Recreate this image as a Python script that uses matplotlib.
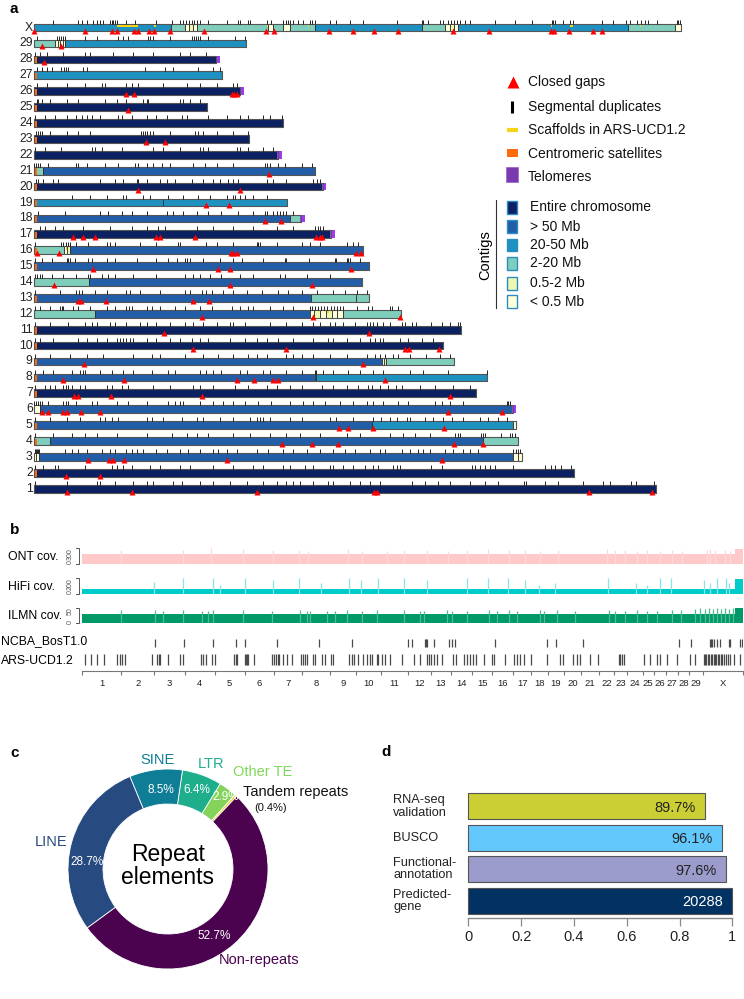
import numpy as np
import matplotlib
matplotlib.use('Agg')
import matplotlib.pyplot as plt
from matplotlib.patches import Rectangle

plt.rcParams['font.family'] = ['Liberation Sans', 'DejaVu Sans']

# ---------------- panel a: chromosome ideogram (Mb) ----------------
chrom_names = [str(i) for i in range(1, 30)] + ['X']
chrom_len = [157.8, 137.1, 123.9, 122.7, 122.2, 121.4, 112.1, 114.8, 106.4, 103.7,
             108.3, 93.1, 85.0, 83.1, 84.9, 83.5, 75.3, 67.7, 64.1, 73.2,
             71.3, 61.9, 54.6, 63.2, 43.9, 52.3, 47.7, 46.2, 53.7, 164.2]

contig_labels = ['Entire chromosome', '> 50 Mb', '20-50 Mb', '2-20 Mb', '0.5-2 Mb', '< 0.5 Mb']
contig_colors = ['#0b2161', '#225ea8', '#1d91c0', '#7fcdbb', '#edf8b1', '#ffffd9']

# (start, end, class) per chromosome
contigs = [
    [(0, 157.8, 0)],
    [(0, 137.1, 0)],
    [(0, 0.5, 5), (0.5, 1.2, 5), (1.2, 121.6, 1), (121.6, 122.8, 5), (122.8, 123.9, 5)],
    [(0, 4.0, 3), (4.0, 113.8, 1), (113.8, 122.7, 3)],
    [(0, 85.8, 1), (85.8, 121.4, 2), (121.4, 122.2, 5)],
    [(0, 1.5, 5), (1.5, 121.4, 1)],
    [(0, 112.1, 0)],
    [(0, 71.3, 1), (71.3, 71.6, 4), (71.6, 114.8, 2)],
    [(0, 88.2, 1), (88.2, 88.8, 5), (88.8, 89.3, 4), (89.3, 106.4, 3)],
    [(0, 103.7, 0)],
    [(0, 108.3, 0)],
    [(0, 15.4, 3), (15.4, 70.0, 1), (70.0, 71.0, 5), (71.0, 72.6, 4), (72.6, 74.0, 5),
     (74.0, 75.5, 4), (75.5, 76.8, 5), (76.8, 78.4, 5), (78.4, 93.1, 3)],
    [(0, 70.2, 1), (70.2, 81.6, 3), (81.6, 84.9, 3)],
    [(0, 14.0, 3), (14.0, 83.1, 1)],
    [(0, 84.9, 1)],
    [(0, 7.6, 3), (7.6, 8.3, 5), (8.3, 9.0, 4), (9.0, 83.5, 1)],
    [(0, 75.3, 0)],
    [(0, 64.9, 1), (64.9, 67.7, 3)],
    [(0, 32.6, 2), (32.6, 64.1, 2)],
    [(0, 73.2, 0)],
    [(0, 2.3, 3), (2.3, 71.3, 1)],
    [(0, 61.9, 0)],
    [(0, 54.6, 0)],
    [(0, 63.2, 0)],
    [(0, 43.9, 0)],
    [(0, 52.3, 0)],
    [(0, 47.7, 2)],
    [(0, 46.2, 0)],
    [(0, 5.3, 3), (5.3, 6.0, 5), (6.0, 6.6, 4), (6.6, 7.2, 5), (7.2, 7.8, 5), (7.8, 53.7, 2)],
    [(0, 34.7, 2), (34.7, 38.3, 3), (38.3, 39.3, 5), (39.3, 40.3, 4), (40.3, 41.3, 5),
     (41.3, 59.3, 3), (59.3, 60.6, 5), (60.6, 63.0, 3), (63.0, 64.9, 5), (64.9, 71.2, 3),
     (71.2, 98.4, 2), (98.4, 104.2, 3), (104.2, 105.5, 5), (105.5, 106.5, 4),
     (106.5, 107.5, 5), (107.5, 150.7, 2), (150.7, 162.6, 3), (162.6, 164.2, 5)],
]

closed_gaps = [
    [8.3, 24.9, 56.4, 86.2, 86.9, 140.9, 156.9],
    [8.0, 16.7],
    [13.6, 18.9, 20.1, 22.7, 48.8, 103.4],
    [62.9, 70.5, 77.2, 106.6, 114.0],
    [77.4, 79.6, 85.9, 104.0],
    [2.0, 3.4, 7.3, 8.4, 11.8, 16.7, 104.9, 118.6],
    [10.1, 11.0, 19.5, 42.6, 105.5],
    [7.4, 22.7, 51.4, 55.8, 60.5, 61.8, 89.0],
    [12.7, 83.3],
    [40.4, 64.0, 94.1, 95.1, 102.8],
    [32.9, 84.9],
    [42.6, 70.8, 92.8],
    [11.0, 11.8, 18.1, 40.2, 44.3],
    [5.0, 49.7, 70.5],
    [15.0, 46.6, 49.7, 80.5],
    [0.6, 6.3, 49.8, 50.5, 51.4, 81.6, 82.9],
    [9.7, 12.3, 15.3, 31.0, 31.9, 40.8, 71.5, 72.5, 73.1],
    [58.6, 62.6],
    [43.7, 49.3],
    [26.2, 52.3],
    [59.6],
    [],
    [28.4, 33.1],
    [],
    [23.9],
    [23.4, 25.4, 50.3, 50.8, 51.5],
    [],
    [2.5],
    [1.9, 6.7],
    [0.0, 12.9, 19.6, 20.9, 25.3, 26.2, 29.1, 30.5, 34.4, 43.1, 58.7, 60.9, 74.9, 80.8,
     86.3, 92.2, 106.2, 115.5, 131.1, 132.0, 135.8, 141.9, 144.2],
]

seg_dups = [
    [0.2, 8.2, 15.8, 16.7, 20.5, 25.1, 28.5, 30.2, 35.3, 37.4, 42.0, 45.4, 49.7, 53.9, 58.1,
     61.5, 64.0, 65.7, 67.4, 70.8, 74.6, 75.9, 80.1, 82.7, 85.2, 87.7, 95.8, 99.1, 102.5,
     105.5, 110.6, 114.3, 117.7, 124.4, 124.8, 129.5, 132.9, 139.2, 144.3, 146.0, 151.5,
     152.8, 157.4],
    [0.2, 2.3, 5.2, 6.1, 12.9, 19.6, 20.9, 22.6, 24.7, 29.4, 31.9, 37.0, 39.5, 45.4, 50.5,
     55.6, 58.1, 63.2, 64.9, 68.7, 70.8, 75.0, 75.9, 78.4, 81.0, 83.9, 86.0, 87.3, 91.1,
     92.0, 92.8, 100.8, 103.4, 111.0, 111.8, 113.1, 114.3, 115.6, 116.9, 121.5, 129.5,
     131.2, 132.1, 133.7, 136.3],
    [0.1, 0.4, 0.7, 1.0, 1.3, 7.8, 9.5, 11.2, 13.3, 17.1, 19.2, 20.5, 23.4, 24.7, 26.0,
     27.7, 31.0, 33.6, 37.0, 39.1, 42.0, 45.4, 46.7, 48.8, 51.4, 56.4, 59.4, 63.2, 65.7,
     69.1, 72.5, 75.9, 78.8, 81.4, 85.2, 87.7, 89.0, 93.2, 95.3, 97.4, 98.7, 100.4, 104.2,
     106.3, 108.9, 110.6, 112.7, 121.6, 122.2, 122.8, 123.4],
    [0.2, 4.8, 9.5, 12.9, 15.8, 20.9, 28.5, 34.9, 38.7, 41.2, 44.2, 50.5, 54.7, 59.8, 64.0,
     67.4, 72.5, 79.3, 82.7, 90.3, 93.7, 96.6, 100.4, 106.7, 107.6, 108.0, 113.5, 113.9,
     114.3, 118.5, 120.7, 121.3, 121.9],
    [0.2, 4.0, 8.2, 11.6, 16.7, 18.0, 19.6, 21.3, 28.5, 29.8, 32.7, 37.4, 41.2, 42.9, 47.1,
     50.5, 54.7, 56.4, 57.2, 58.1, 59.8, 64.9, 67.9, 75.0, 76.7, 81.0, 86.0, 88.1, 90.3,
     92.0, 94.5, 95.3, 99.1, 101.3, 103.8, 105.9, 108.9, 113.1, 115.2, 117.8, 119.9],
    [0.0, 0.5, 1.0, 1.5, 1.9, 3.6, 7.4, 8.0, 8.6, 10.7, 14.6, 15.8, 20.9, 23.9, 28.5, 34.0,
     35.7, 37.0, 37.8, 42.0, 45.4, 47.9, 50.5, 53.5, 56.9, 60.2, 64.9, 68.3, 70.8, 73.8,
     77.6, 81.0, 84.4, 86.0, 88.6, 92.4, 94.9, 101.7, 103.4, 105.5, 108.9, 119.9, 120.3,
     120.7],
    [0.2, 2.7, 4.0, 5.2, 7.4, 8.0, 8.6, 9.5, 11.6, 12.9, 18.4, 19.6, 22.2, 23.9, 30.2, 34.4,
     40.4, 42.0, 45.4, 50.9, 54.3, 59.0, 61.5, 64.9, 67.9, 72.9, 75.9, 79.3, 82.2, 84.8,
     85.6, 87.7, 89.8, 91.9, 93.2, 97.9, 101.7, 106.3, 110.6],
    [0.2, 2.3, 4.8, 9.5, 11.6, 12.3, 12.9, 16.7, 19.6, 22.6, 25.1, 29.8, 34.0, 35.7, 42.0,
     43.7, 45.4, 47.5, 52.2, 53.9, 58.1, 59.8, 64.0, 67.9, 71.2, 71.5, 73.4, 75.9, 79.7,
     82.7, 86.0, 88.6, 95.3, 98.7, 105.0, 114.8],
    [0.2, 4.0, 9.1, 13.3, 17.5, 25.1, 29.8, 31.9, 38.2, 42.9, 46.7, 50.5, 54.3, 56.4, 59.0,
     64.0, 65.7, 67.9, 70.8, 75.0, 79.3, 84.4, 86.5, 87.7, 89.0, 91.1, 92.4, 95.3, 99.5,
     102.9, 105.5],
    [0.2, 1.5, 4.8, 11.2, 13.3, 15.8, 18.4, 20.9, 21.8, 22.6, 23.4, 24.3, 25.1, 28.5, 31.0,
     34.4, 37.0, 39.9, 42.0, 44.2, 49.7, 53.5, 56.4, 59.0, 61.9, 65.7, 70.8, 74.6, 75.9,
     79.3, 82.7, 85.2, 86.5, 87.7, 88.6, 92.8, 94.9, 98.3, 101.3],
    [0.2, 4.0, 8.6, 12.9, 14.6, 15.8, 19.2, 20.5, 23.4, 26.8, 28.5, 31.0, 34.4, 38.2, 40.4,
     42.9, 46.3, 49.7, 50.5, 53.5, 59.8, 64.0, 67.9, 70.8, 72.5, 75.0, 76.3, 78.4, 81.4,
     84.4, 85.2, 86.0, 86.9, 88.6, 90.3, 93.2, 94.1, 95.8, 97.0, 100.8, 103.4, 105.5,
     107.6, 108.0],
    [0.2, 1.4, 4.0, 6.5, 7.0, 7.4, 9.9, 11.2, 14.1, 18.4, 20.5, 23.4, 24.0, 24.7, 28.5,
     29.8, 31.9, 35.7, 38.2, 42.0, 45.0, 50.1, 52.2, 54.3, 55.6, 59.8, 63.2, 65.7, 70.0,
     70.6, 71.2, 72.0, 72.8, 73.6, 74.4, 75.2, 76.0, 76.8, 77.6, 78.4, 81.8, 84.8, 85.6,
     90.3, 90.7, 92.4],
    [0.2, 6.5, 10.7, 11.3, 12.0, 15.4, 18.4, 23.4, 24.3, 26.8, 31.9, 38.2, 39.5, 42.5, 43.7,
     45.0, 48.0, 50.5, 53.9, 57.7, 61.9, 64.5, 67.9, 71.7, 75.9, 78.8, 81.8, 84.4],
    [0.2, 0.8, 1.4, 1.9, 4.4, 7.4, 10.7, 13.7, 14.1, 17.1, 18.8, 20.5, 25.1, 31.0, 38.2,
     40.4, 42.0, 44.6, 47.5, 52.2, 55.6, 62.4, 63.6, 69.1, 75.0],
    [0.2, 1.9, 4.4, 8.2, 8.6, 9.1, 10.3, 13.7, 14.6, 18.4, 20.5, 26.0, 31.0, 34.0, 36.1,
     38.2, 38.8, 39.5, 42.9, 47.1, 50.5, 52.6, 58.1, 63.6, 64.0, 69.6, 76.3, 76.7, 79.3,
     79.7, 80.1, 82.7],
    [0.2, 6.9, 7.4, 8.0, 8.6, 9.1, 10.7, 13.7, 18.4, 19.2, 20.5, 26.8, 31.0, 36.5, 37.0,
     43.7, 46.3, 50.5, 56.4, 56.8, 57.3, 61.5, 67.9, 70.0, 72.5, 79.3, 81.0, 82.2],
    [1.4, 2.7, 5.2, 7.4, 12.4, 19.2, 24.7, 28.5, 31.5, 33.2, 41.2, 45.4, 50.5, 55.6, 61.5,
     65.7, 71.2, 71.9, 72.6, 73.4],
    [1.0, 7.8, 16.7, 18.8, 22.2, 24.7, 28.5, 33.6, 35.3, 37.8, 41.2, 44.2, 47.5, 51.8, 55.6,
     58.5, 59.0, 60.7, 61.5, 62.3, 63.2, 64.0, 65.7],
    [9.5, 14.1, 18.4, 22.6, 23.4, 27.7, 29.4, 34.0, 37.8, 41.6, 44.6, 48.8, 50.5, 50.9,
     52.2, 53.5, 55.6, 59.0],
    [0.4, 1.0, 2.3, 4.8, 6.1, 16.7, 20.5, 22.6, 26.0, 26.4, 28.5, 31.9, 33.6, 35.7, 39.9,
     42.9, 45.4, 47.1, 49.2, 50.5, 51.8, 59.0, 60.7, 64.0, 70.8, 71.7, 72.5],
    [0.0, 0.5, 1.0, 1.4, 3.6, 10.7, 11.2, 13.3, 17.9, 21.3, 25.5, 26.4, 28.5, 30.2, 32.3,
     34.4, 40.4, 43.3, 46.3, 50.5, 58.5, 59.1, 59.8, 61.9, 63.6, 67.9, 70.4],
    [0.2, 2.7, 6.9, 14.6, 15.4, 17.1, 22.2, 30.2, 32.7, 37.0, 42.0, 42.9, 44.2, 51.4, 52.2,
     54.3, 58.1, 60.7],
    [0.4, 0.9, 1.4, 1.9, 4.0, 8.2, 11.2, 14.1, 27.2, 27.7, 28.2, 28.7, 29.4, 30.2, 34.4,
     40.8, 41.6, 42.9, 46.3, 50.5, 54.3],
    [0.2, 2.7, 5.2, 8.2, 10.7, 12.0, 13.3, 14.6, 16.7, 21.3, 22.2, 24.7, 28.5, 31.0, 33.6,
     37.4, 38.7, 44.2, 48.8, 52.2, 54.3, 58.1, 59.8, 62.8],
    [0.6, 1.0, 1.9, 4.0, 8.2, 11.2, 17.9, 20.9, 23.4, 27.7, 28.5, 28.9, 37.0, 37.8, 39.5, 42.0],
    [0.6, 3.1, 8.2, 12.9, 17.1, 17.9, 23.4, 24.7, 26.4, 32.7, 38.7, 42.0, 46.3, 50.5, 51.4],
    [0.6, 1.9, 3.1, 4.4, 6.9, 7.5, 8.0, 8.6, 12.4, 13.3, 28.1, 33.2, 35.3, 41.6, 45.4, 47.1],
    [0.2, 1.4, 3.1, 7.4, 12.9, 14.1, 20.1, 25.1, 30.2, 37.0, 39.5, 43.7],
    [0.6, 5.7, 6.2, 6.7, 7.2, 7.8, 12.9, 15.8, 21.3, 22.6, 23.9, 28.9, 29.4, 30.2, 34.4,
     40.0, 40.5, 41.0, 41.5, 42.0, 44.2, 50.9, 53.5],
    [4.8, 11.2, 12.0, 13.5, 15.0, 15.8, 16.7, 17.5, 19.2, 19.6, 20.0, 20.5, 20.9, 23.4, 25.5,
     31.0, 34.9, 37.0, 37.8, 38.5, 39.2, 39.9, 40.5, 41.2, 42.0, 44.2, 48.8, 51.8, 52.2,
     54.3, 54.7, 59.0, 60.2, 63.2, 63.8, 64.4, 65.0, 65.7, 67.0, 68.3, 70.0, 70.6, 71.2,
     75.0, 76.7, 80.1, 83.5, 92.0, 98.3, 98.7, 100.0, 103.0, 103.8, 105.1, 105.8, 106.5,
     107.2, 108.0, 109.3, 110.6, 116.9, 122.0, 126.2, 131.3, 131.7, 132.1, 134.3, 136.0,
     136.8, 144.0, 147.0, 150.3, 151.2, 152.9, 154.1, 155.0, 155.8, 158.0, 163.0, 163.5,
     164.0],
]

scaffold_chrom = ['X', 'X', 'X', 'X', 'X', 'X', 'X', '12', '16']
scaffold_start = [20.9, 30.4, 59.0, 69.4, 131.1, 136.0, 153.7, 74.3, 8.0]
scaffold_end = [26.4, 30.9, 59.4, 69.8, 131.5, 136.8, 154.1, 74.9, 8.4]

centromere_chroms = ['2', '4', '5', '7', '8', '9', '10', '11', '13', '15', '16', '17', '18',
                     '19', '20', '21', '23', '24', '25', '26', '27', '28']
telomere_chroms = ['6', '17', '18', '20', '22', '26', '28']

# ---------------- panel b: genome tracks (genome-wide Mb) ----------------
ont_base, hifi_base, ilmn_base = 192, 60, 28
cov_block_start = 2669
ont_spike_pos = [157, 410.6, 525.2, 657.3, 781.2, 887.5, 924.3, 1088, 1142.7, 1245, 1312.9,
                 1408.6, 1495.7, 1572.2, 1657.3, 1742.3, 1810.6, 1872, 1944.4, 2144.8,
                 2178.7, 2219.6, 2267.5, 2308.4, 2362.8, 2410.6, 2451.5, 2553.8, 2567.3,
                 2587.7, 2628.6, 2646.2]
ont_spike_val = [275, 265, 300, 290, 260, 270, 250, 280, 240, 255, 275, 265, 250, 270, 280,
                 260, 265, 245, 270, 280, 265, 260, 250, 270, 255, 260, 250, 265, 285, 270,
                 260, 250]
hifi_spike_pos = [293.3, 413.1, 535.8, 563.2, 665.4, 778.7, 887.5, 976.3, 1092, 1139.9,
                  1206.6, 1312.9, 1408.6, 1572.2, 1656.5, 1739.9, 1810.6, 1865, 1933.3,
                  2147.3, 2263.4, 2308.4, 2360, 2406.6, 2542.8, 2567.3, 2594.7, 2629.9,
                  2642.1]
hifi_spike_val = [157, 200, 200, 115, 200, 180, 200, 136, 200, 180, 200, 200, 180, 200, 200,
                  200, 180, 115, 136, 200, 136, 115, 200, 200, 180, 136, 200, 200, 136]
ilmn_spike_pos = [157, 297.3, 330.1, 411.9, 488.3, 515.3, 535.8, 658.5, 774.6, 890.4, 917.8,
                  931.3, 999.6, 1033.5, 1081.4, 1142.7, 1204.1, 1312.9, 1381.2, 1394.7,
                  1490.4, 1510.8, 1572.2, 1660.5, 1694.9, 1742.3, 1776.7, 1872, 1885.5,
                  1940.3, 2015.2, 2151.3, 2178.7, 2219.6, 2267.5, 2308.4, 2349.3, 2410.6,
                  2448.7, 2505.9, 2526.4, 2546.8, 2563.2, 2579.6, 2596, 2612.3, 2628.6,
                  2645, 2661.4]
ilmn_spike_val = [42, 44, 40, 42, 38, 40, 42, 44, 40, 42, 40, 38, 40, 38, 42, 40, 42, 42, 40,
                  38, 42, 40, 40, 44, 40, 42, 38, 42, 40, 42, 40, 42, 40, 40, 42, 40, 38, 42,
                  44, 46, 48, 46, 48, 47, 48, 46, 48, 47, 48]
ncba_gaps = [297.3, 417.2, 533.3, 628.6, 665.4, 797.5, 969.3, 1101.8, 1333.3, 1347.2, 1401.6,
             1405.0, 1408.6, 1435.6, 1496.9, 1510.8, 1524.3, 1687.9, 1899.4, 1937.4, 2045,
             2437.6, 2489.6, 2567.3, 2571.5, 2575.5, 2580.8, 2594.7, 2608.2, 2642.2, 2649.1,
             2687.1, 2696.9]
ars_gaps = [11.0, 34.4, 58.9, 90.0, 140.7, 154.2, 163.6, 174.6, 283.8, 304.3, 312.5, 317.8,
            349.3, 399.6, 413.1, 486.6, 494.9, 504.7, 531.7, 542.7, 621.7, 628.6, 633.9,
            665.4, 669.5, 673.6, 678.9, 703.5, 774.6, 784.1, 792.2, 799.2, 805.7, 822.1,
            838.5, 856.4, 894.5, 903.9, 910.9, 920.3, 944.8, 951.8, 979.2, 992.7, 1016,
            1026.6, 1092, 1101.8, 1111.3, 1128.8, 1149.3, 1163.2, 1176.7, 1183.6, 1204.1,
            1210.6, 1224.5, 1238.0, 1258.5, 1306.3, 1353.8, 1378.3, 1408.6, 1415.1, 1426.2,
            1435.6, 1449.5, 1470, 1514.9, 1528.4, 1561.1, 1572.2, 1585.7, 1596.7, 1610.2,
            1640.1, 1674.4, 1683.9, 1726, 1762.8, 1776.7, 1787.3, 1803.7, 1835.2, 1899.4,
            1953.8, 1964.8, 2005.7, 2022.1, 2035.6, 2076.5, 2108, 2192.2, 2199.2, 2206.1,
            2212.7, 2294.5, 2321.9, 2349.3, 2362.8, 2390.2, 2431.1, 2485.5, 2505.9, 2539.9,
            2545, 2550, 2556, 2562, 2568, 2574, 2580, 2586, 2592, 2598, 2604, 2610, 2616,
            2622, 2630, 2640, 2648, 2662.6, 2690]

# ---------------- panel c / d ----------------
repeat_names = ['Tandem repeats', 'Other TE', 'LTR', 'SINE', 'LINE', 'Non-repeats']
repeat_pct = [0.4, 2.9, 6.4, 8.5, 28.7, 52.7]
repeat_colors = ['#f4d31c', '#84d35b', '#1eae8b', '#0f7d95', '#274a80', '#4b0350']

gene_cats = ['RNA-seq\nvalidation', 'BUSCO', 'Functional-\nannotation', 'Predicted-\ngene']
gene_frac = [0.897, 0.961, 0.976, 1.0]
gene_text = ['89.7%', '96.1%', '97.6%', '20288']
gene_colors = ['#cccf33', '#63c9fd', '#9b9bcc', '#023262']

W, H = 744, 999
fig = plt.figure(figsize=(W / 100, H / 100), dpi=100)


def px_axes(x0, y0, x1, y1):
    return fig.add_axes([x0 / W, 1 - y1 / H, (x1 - x0) / W, (y1 - y0) / H])


# ---- panel a
MB_PX, X0 = 3.94, 34.3
ROW_PX, Y_ROW1 = 15.9, 488.7
HALF = 0.245
ax = px_axes(0, 0, W, 500)
ax.set_xlim(-X0 / MB_PX, (W - X0) / MB_PX)
ax.set_ylim((Y_ROW1 - 500) / ROW_PX, Y_ROW1 / ROW_PX)
ax.axis('off')
for i, name in enumerate(chrom_names):
    L = chrom_len[i]
    ax.vlines(seg_dups[i], i + HALF, i + HALF + 0.25, color='black', lw=0.6)
    for s, e, c in contigs[i]:
        ax.add_patch(Rectangle((s, i - HALF), e - s, 2 * HALF, fc=contig_colors[c],
                               ec='#2e2e2e', lw=0.6))
    if name in centromere_chroms:
        ax.add_patch(Rectangle((0, i - HALF), 0.8, 2 * HALF * 0.8, fc='#ff6a0a', lw=0))
    if name in telomere_chroms:
        ax.add_patch(Rectangle((L - 0.2, i - HALF), 1.1, 2 * HALF, fc='#9b3cf0', lw=0))
    ax.add_patch(Rectangle((0, i - HALF), L, 2 * HALF, fill=False, ec='#555555', lw=0.8))
    for c, s, e in zip(scaffold_chrom, scaffold_start, scaffold_end):
        if c == name:
            ax.add_patch(Rectangle((s, i + 0.02), e - s, HALF * 0.7, fc='#f7d417', lw=0))
    if closed_gaps[i]:
        ax.plot(closed_gaps[i], [i - HALF + 0.06] * len(closed_gaps[i]), '^',
                color='#ff0000', ms=3.7, mec='none', clip_on=False)
    ax.text(-0.4, i, name, ha='right', va='center', fontsize=8.8, color='#222222')

# ---- panel b
G0, G1 = 82.3, 742.7
total = sum(chrom_len)
starts = np.concatenate([[0], np.cumsum(chrom_len)[:-1]])

tracks = [
    (548.3, 564.0, 300, ont_base, ont_spike_pos, ont_spike_val, '#ffc9c9', '#ffd9d9', 'ONT cov.'),
    (578.3, 594.0, 200, hifi_base, hifi_spike_pos, hifi_spike_val, '#00cbcb', '#86e6e6', 'HiFi cov.'),
    (607.7, 623.0, 50, ilmn_base, ilmn_spike_pos, ilmn_spike_val, '#00996a', '#4fbb8f', 'ILMN cov.'),
]
for y0, y1, ymax, base, sp, sv, c_base, c_spike, label in tracks:
    t = px_axes(G0, y0, G1, y1)
    t.set_xlim(0, total)
    t.set_ylim(0, ymax)
    t.axis('off')
    t.vlines(sp, 0, sv, color=c_spike, lw=0.9)
    t.fill_between([0, cov_block_start], 0, base, color=c_base, lw=0)
    t.fill_between([cov_block_start, total], 0, ymax * 0.97, color=c_base, lw=0)

ag = px_axes(G0, 630, G1, 670.7)
ag.set_xlim(0, total)
ag.set_ylim(670.7, 630)
ag.vlines(ncba_gaps, 639, 646.7, color='#4a4a4a', lw=0.9)
ag.vlines(ars_gaps, 654.3, 665, color='#4a4a4a', lw=0.9)
for s in ['top', 'left', 'right']:
    ag.spines[s].set_visible(False)
ag.spines['bottom'].set_color('#777777')
ag.spines['bottom'].set_linewidth(0.8)
ag.set_yticks([])
ag.set_xticks(list(starts) + [total])
ag.set_xticklabels([])
ag.set_xticks(starts + np.array(chrom_len) / 2, minor=True)
ag.set_xticklabels(chrom_names, minor=True, fontsize=6.8, color='#222222')
ag.tick_params(which='major', length=3, width=0.8, color='#777777')
ag.tick_params(which='minor', length=0, pad=6)

# ---- panel c
ac = px_axes(68, 769, 268, 969)
ac.pie(repeat_pct, colors=repeat_colors, startangle=46.6, counterclock=True, radius=1,
       wedgeprops=dict(width=0.35, edgecolor='white', linewidth=0.6))
ac.set_xlim(-1, 1)
ac.set_ylim(-1, 1)

# ---- panel d
ad = px_axes(468.3, 785, 732.3, 918.3)
ypos = np.arange(len(gene_cats))[::-1]
bars = ad.barh(ypos, gene_frac, height=0.82, color=gene_colors, edgecolor='#555555', lw=0.8)
for b in bars:
    b.set_clip_on(False)
for y, v, s, c in zip(ypos, gene_frac, gene_text, ['#222222', '#222222', '#222222', 'white']):
    ad.annotate(s, (v, y), xytext=(-7, -1), textcoords='offset points', ha='right',
                va='center', fontsize=10.5, color=c)
ad.set_xlim(0, 1)
ad.set_ylim(-0.552, 3.676)
for s in ['top', 'left', 'right']:
    ad.spines[s].set_visible(False)
ad.spines['bottom'].set_color('#888888')
ad.spines['bottom'].set_linewidth(1.0)
ad.set_yticks([])
ad.set_xticks([0, 0.2, 0.4, 0.6, 0.8, 1.0])
ad.set_xticklabels(['0', '0.2', '0.4', '0.6', '0.8', '1'], fontsize=10.5, color='#222222')
ad.tick_params(axis='x', length=5.5, width=0.9, color='#888888', pad=3)

# ---- overlay: legends, labels, panel letters (pixel coordinates)
ov = fig.add_axes([0, 0, 1, 1])
ov.set_xlim(0, W)
ov.set_ylim(H, 0)
ov.axis('off')

for x, y, s in [(14, 9, 'a'), (15, 530, 'b'), (15, 753, 'c'), (386, 752, 'd')]:
    ov.text(x, y, s, fontsize=11, weight='bold', ha='center', va='center')

# panel a legend
ov.plot(512.5, 82, '^', color='#ff0000', ms=9, mec='none')
ov.plot([512, 512], [101, 113], color='black', lw=2.2, solid_capstyle='butt')
ov.plot([507, 518], [130, 130], color='#f7d417', lw=3, solid_capstyle='butt')
ov.add_patch(Rectangle((506.7, 149), 11.6, 8, fc='#ff6a0a', lw=0))
ov.add_patch(Rectangle((505.5, 167), 12.5, 14.5, fc='#7a3aae', ec='#9b6ccc', lw=0.6))
for y, s in [(82, 'Closed gaps'), (106.7, 'Segmental duplicates'),
             (129.7, 'Scaffolds in ARS-UCD1.2'), (154.3, 'Centromeric satellites'),
             (176.7, 'Telomeres')]:
    ov.text(528, y, s, fontsize=10, va='center', color='#111111')
for y, c, s in zip([207.3, 226.7, 245, 263.3, 283.3, 301.7], contig_colors, contig_labels):
    ov.add_patch(Rectangle((506.5, y - 6.3), 10.5, 12.6, fc=c, ec='#2b8cc4', lw=1.0))
    ov.text(530, y, s, fontsize=10, va='center', color='#111111')
ov.plot([495.7, 495.7], [200, 307.7], color='#333333', lw=0.8)
ov.text(485, 255, 'Contigs', rotation=90, fontsize=10.5, ha='center', va='center')

# panel b labels and brackets
for (y0, y1, ymax, *_rest), lab in zip(tracks, ['ONT cov.', 'HiFi cov.', 'ILMN cov.']):
    ov.text(8, (y0 + y1) / 2 + 1, lab, fontsize=8.8, va='center')
    ov.plot([76, 78.7, 78.7, 76], [y0, y0, y1, y1], color='#555555', lw=0.7)
    ov.text(70, y0 - 0.5, str(ymax), rotation=90, fontsize=5, color='#555555',
            ha='center', va='top')
    ov.text(70, y1 + 0.5, '0', rotation=90, fontsize=5, color='#555555',
            ha='center', va='bottom')
ov.text(1, 641, 'NCBA_BosT1.0', fontsize=8.8, va='center')
ov.text(1, 660.5, 'ARS-UCD1.2', fontsize=8.8, va='center')

# panel c labels
ov.text(157, 760, 'SINE', color='#0f7d95', fontsize=10.5, ha='center', va='center')
ov.text(211, 764, 'LTR', color='#1eae8b', fontsize=10.5, ha='center', va='center')
ov.text(263, 772, 'Other TE', color='#7ed957', fontsize=10.5, ha='center', va='center')
ov.text(243, 792, 'Tandem repeats', color='#111111', fontsize=10.5, ha='left', va='center')
ov.text(271, 808, '(%.1f%%)' % repeat_pct[0], color='#111111', fontsize=8, ha='center',
        va='center')
ov.text(51, 842, 'LINE', color='#274a80', fontsize=10.5, ha='center', va='center')
ov.text(259, 960, 'Non-repeats', color='#4b0350', fontsize=10.5, ha='center', va='center')
for (x, y), v in zip([(226, 797), (197, 790), (161, 790), (87, 862), (214, 936)],
                     repeat_pct[1:]):
    ov.text(x, y, '%.1f%%' % v, color='white', fontsize=8.5, ha='center', va='center')
ov.text(168, 866, 'Repeat\nelements', fontsize=16.5, ha='center', va='center',
        linespacing=1.05)

# panel d labels
for y, s in zip([806.3, 837.9, 869.2, 900.9], gene_cats):
    ov.text(393, y, s, fontsize=9.2, ha='left', va='center', linespacing=1.05,
            color='#222222')

fig.savefig('out.png', dpi=100)
